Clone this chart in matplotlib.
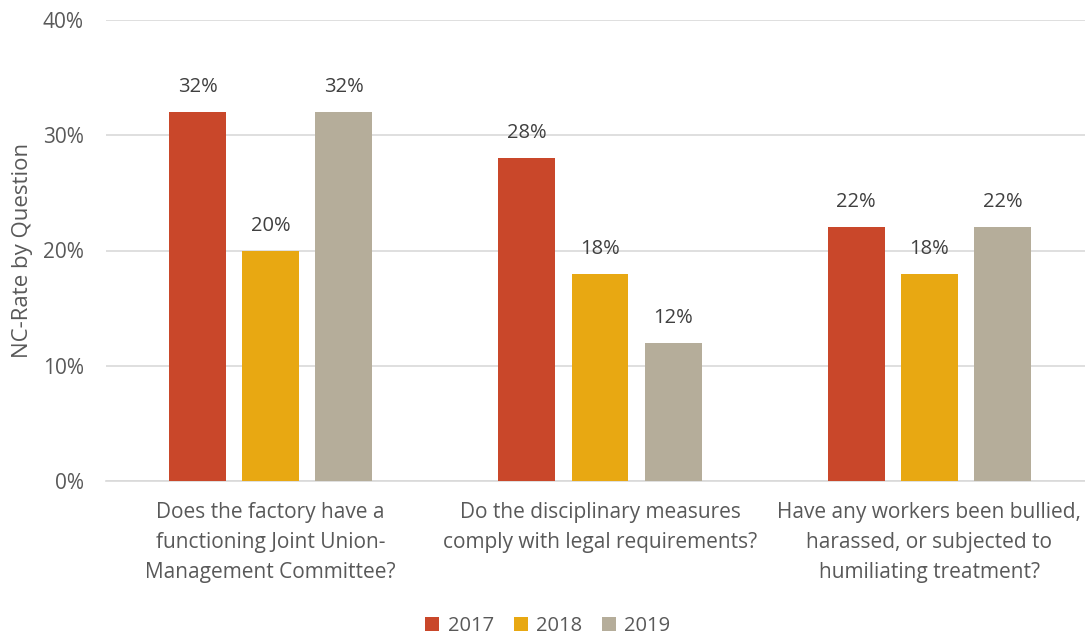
import numpy as np
import matplotlib
matplotlib.use("Agg")
import matplotlib.pyplot as plt

# --- data ---
questions = [
    "Does the factory have a\nfunctioning Joint Union-\nManagement Committee?",
    "Do the disciplinary measures\ncomply with legal requirements?",
    "Have any workers been bullied,\nharassed, or subjected to\nhumiliating treatment?",
]
years = ["2017", "2018", "2019"]
rate_2017 = [32, 28, 22]
rate_2018 = [20, 18, 18]
rate_2019 = [32, 12, 22]
colors = ["#C9472A", "#E8A812", "#B5AD9A"]

plt.rcParams["font.family"] = ["Open Sans", "DejaVu Sans"]
TEXT = "#595959"

fig = plt.figure(figsize=(10.85, 6.36), dpi=100)
ax = fig.add_axes([106 / 1085, 1 - 481 / 636, 988 / 1085, 461 / 636])

x = np.arange(len(questions))
width = 0.173
step = 0.222
for i, (vals, year, col) in enumerate(zip([rate_2017, rate_2018, rate_2019], years, colors)):
    bars = ax.bar(x + (i - 1) * step, vals, width, color=col, label=year, zorder=3)
    for b, v in zip(bars, vals):
        ax.text(b.get_x() + b.get_width() / 2, v + 1.3, f"{v}%", ha="center", va="bottom",
                fontsize=14.5, color="#404040")

ax.set_xlim(-0.5, 2.5)
ax.set_ylim(0, 40)
ax.set_yticks([0, 10, 20, 30, 40])
ax.set_yticklabels([f"{t}%" for t in [0, 10, 20, 30, 40]], fontsize=15, color=TEXT)
ax.set_xticks(x)
ax.set_xticklabels(questions, fontsize=15, color=TEXT, linespacing=1.58)
ax.tick_params(axis="both", length=0)
ax.tick_params(axis="y", pad=16)
ax.tick_params(axis="x", pad=15)
ax.grid(axis="y", color="#D9D9D9", linewidth=1.2, zorder=0)
for s in ["top", "right", "left"]:
    ax.spines[s].set_visible(False)
ax.spines["bottom"].set_color("#D9D9D9")
ax.spines["bottom"].set_linewidth(1.2)
ax.set_ylabel("NC-Rate by Question", fontsize=16, color=TEXT, labelpad=7)

fig.legend(loc="lower center", bbox_to_anchor=(0.505, -0.028), ncol=3, frameon=False,
           fontsize=14.5, labelcolor=TEXT, handlelength=0.7, handleheight=0.7,
           columnspacing=1.0, handletextpad=0.4)

fig.savefig("out.png", dpi=100)
